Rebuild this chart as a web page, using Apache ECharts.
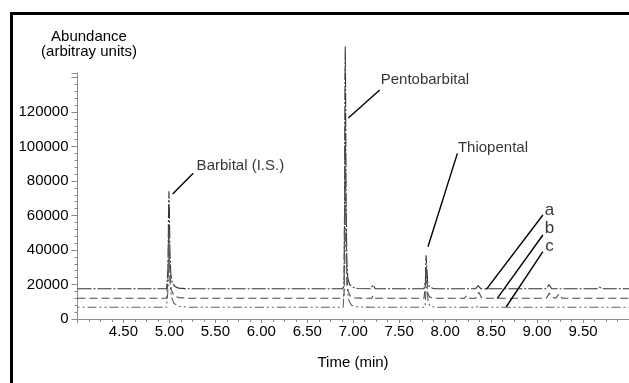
<!DOCTYPE html>
<html>
<head>
<meta charset="utf-8">
<script src="https://cdn.jsdelivr.net/npm/echarts@6/dist/echarts.min.js"></script>
<style>
  html, body { margin: 0; padding: 0; background: #fff; }
  #chart { width: 629px; height: 383px; }
</style>
</head>
<body>
<div id="chart"></div>
<script>
// time (min) tick labels and abundance tick labels
const xTickLabels = [4.5, 5.0, 5.5, 6.0, 6.5, 7.0, 7.5, 8.0, 8.5, 9.0, 9.5];
const yTickLabels = [0, 20000, 40000, 60000, 80000, 100000, 120000];

// chromatogram a (top trace) [time, abundance]
const traceA = [
  [4.0, 17500], [4.40, 17500], [4.42, 18300], [4.44, 17500], [4.97, 17500],
  [4.985, 30000], [4.99, 60000], [4.995, 74000], [5.0, 62000], [5.005, 40000],
  [5.015, 26000], [5.03, 21000], [5.06, 18800], [5.10, 17900], [5.2, 17500],
  [6.88, 17500], [6.90, 19000], [6.905, 60000], [6.91, 140000], [6.913, 158000],
  [6.917, 130000], [6.922, 70000], [6.93, 35000], [6.94, 24000], [6.96, 20000],
  [7.0, 18300], [7.05, 17700], [7.19, 17500], [7.215, 19800], [7.24, 17500],
  [7.77, 17500], [7.785, 22000], [7.792, 37000], [7.80, 30000], [7.81, 21000],
  [7.83, 18500], [7.88, 17500], [8.33, 17500], [8.36, 19300], [8.39, 17500],
  [9.10, 17500], [9.13, 20000], [9.16, 17500], [9.65, 17500], [9.68, 18400],
  [9.71, 17500], [10.0, 17500]
];

// chromatogram b (middle trace)
const traceB = [
  [4.0, 12000], [4.97, 12000], [4.985, 25000], [4.992, 52000], [4.998, 40000],
  [5.008, 24000], [5.02, 17000], [5.05, 13500], [5.10, 12400], [5.2, 12000],
  [6.88, 12000], [6.90, 14000], [6.907, 80000], [6.913, 116000], [6.92, 60000],
  [6.93, 25000], [6.945, 16000], [6.97, 13000], [7.02, 12200], [7.2, 12000],
  [7.215, 13500], [7.23, 12000], [7.77, 12000], [7.785, 20000], [7.793, 31000],
  [7.80, 24000], [7.81, 15000], [7.83, 12800], [7.88, 12000], [8.21, 12000],
  [8.23, 13500], [8.25, 12000], [8.33, 12000], [8.365, 15500], [8.40, 12000],
  [9.10, 12000], [9.135, 15000], [9.17, 12500], [9.20, 12000], [9.24, 14500],
  [9.27, 12000], [10.0, 12000]
];

// chromatogram c (bottom trace)
const traceC = [
  [4.0, 6800], [4.97, 6800], [4.988, 20000], [4.995, 44000], [5.0, 35000],
  [5.008, 20000], [5.02, 13000], [5.05, 9000], [5.10, 7400], [5.2, 6800],
  [6.89, 6800], [6.905, 20000], [6.912, 92000], [6.918, 50000], [6.93, 20000],
  [6.95, 11000], [6.98, 8000], [7.05, 7000], [7.2, 6800], [7.78, 6800],
  [7.79, 15000], [7.796, 26000], [7.803, 18000], [7.815, 9500], [7.84, 7200],
  [7.9, 6800], [8.34, 6800], [8.36, 8000], [8.38, 6800], [10.0, 6800]
];

// annotation leader lines: [from, to] in data coords
const leaders = [
  [[5.035, 72500], [5.259, 84500]],
  [[6.946, 116500], [7.288, 132700]],
  [[7.813, 41900], [8.133, 96000]],
  [[8.448, 17200], [9.063, 60300]],
  [[8.567, 12000], [9.063, 48700]],
  [[8.665, 7100], [9.063, 39000]]
];
const leftLabels = [
  { name: 'Barbital (I.S.)', value: [5.296, 88700] },
  { name: 'Pentobarbital', value: [7.299, 138500] },
  { name: 'Thiopental', value: [8.139, 99000] }
];
const traceLetters = [
  { name: 'a', value: [9.136, 63200] },
  { name: 'b', value: [9.136, 52600] },
  { name: 'c', value: [9.136, 41900] }
];

const font = '"Liberation Sans", Arial, sans-serif';
const axisGrey = '#8a8a8a';

function trace(data, color, dash) {
  return {
    type: 'line', data: data, symbol: 'none', clip: false, silent: true,
    lineStyle: { color: color, width: 1.1, type: dash }
  };
}

const chart = echarts.init(document.getElementById('chart'));

const series = [
  trace(traceA, '#333333', [14, 2, 2, 2]),
  trace(traceB, '#4a4a4a', [8, 4]),
  trace(traceC, '#606060', [2, 3, 2, 3, 9, 3])
];
leaders.forEach(function (seg) {
  series.push({
    type: 'line', data: seg, symbol: 'none', clip: false, silent: true,
    lineStyle: { color: '#000', width: 1.4 }
  });
});
series.push({
  type: 'scatter', data: leftLabels, symbolSize: 0, clip: false, silent: true,
  label: {
    show: true, position: 'right', distance: 0, formatter: p => p.name,
    color: '#000', fontSize: 15, fontFamily: font
  }
});
series.push({
  type: 'scatter', data: traceLetters, symbolSize: 0, clip: false, silent: true,
  label: {
    show: true, position: 'inside', formatter: p => p.name,
    color: '#000', fontSize: 17, fontFamily: font
  }
});

chart.setOption({
  animation: false,
  backgroundColor: '#fff',
  grid: { left: 77.5, right: 0, top: 73, bottom: 64 },
  xAxis: {
    type: 'value', min: 4, max: 10, interval: 0.5,
    axisLine: { show: true, onZero: false, lineStyle: { color: axisGrey, width: 1 } },
    axisTick: { show: true, length: 4, lineStyle: { color: axisGrey } },
    minorTick: { show: true, splitNumber: 4, length: 3, lineStyle: { color: axisGrey } },
    axisLabel: {
      customValues: xTickLabels, formatter: v => v.toFixed(2), margin: 5,
      color: '#000', fontSize: 15, fontFamily: font
    },
    splitLine: { show: false }
  },
  yAxis: {
    type: 'value', min: 0, max: 142600, interval: 20000,
    axisLine: { show: true, lineStyle: { color: axisGrey, width: 1 } },
    axisTick: { show: true, length: 6, lineStyle: { color: axisGrey } },
    minorTick: { show: true, splitNumber: 5, length: 3, lineStyle: { color: axisGrey } },
    axisLabel: {
      customValues: yTickLabels, formatter: v => String(v), margin: 9,
      color: '#000', fontSize: 15, fontFamily: font
    },
    splitLine: { show: false }
  },
  graphic: [
    { type: 'rect', shape: { x: 11.5, y: 13.5, width: 700, height: 500 },
      style: { fill: 'none', stroke: '#000', lineWidth: 3 }, silent: true },
    { type: 'text', x: 89, y: 37, style: { text: 'Abundance', fill: '#000',
      font: '15px ' + font, textAlign: 'center', textVerticalAlign: 'middle' } },
    { type: 'text', x: 89, y: 51.5, style: { text: '(arbitray units)', fill: '#000',
      font: '15px ' + font, textAlign: 'center', textVerticalAlign: 'middle' } },
    { type: 'text', x: 353, y: 363, style: { text: 'Time (min)', fill: '#000',
      font: '15px ' + font, textAlign: 'center', textVerticalAlign: 'middle' } }
  ],
  series: series
});
</script>
</body>
</html>
